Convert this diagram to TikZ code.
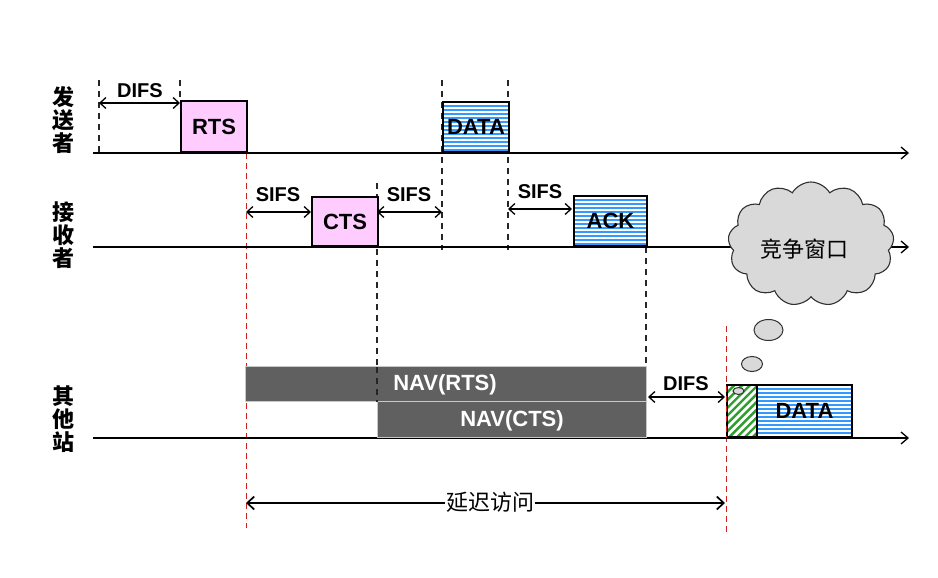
\documentclass[tikz,border=0pt]{standalone}
\usepackage{fontspec}
\setmainfont{Liberation Sans}
\newfontfamily\cjk{Noto Sans CJK SC}
\usetikzlibrary{arrows.meta,shapes.symbols,shapes.geometric}
\definecolor{pinkc}{HTML}{FFCCFF}
\definecolor{bluec}{HTML}{3399FF}
\definecolor{greenc}{HTML}{2E9E2E}
\definecolor{navc}{HTML}{606060}
\definecolor{navb}{HTML}{C8C8C8}
\definecolor{cloudc}{HTML}{D9D9D9}
\definecolor{cloudb}{HTML}{303030}
\definecolor{redd}{HTML}{D02020}
\begin{document}
\begin{tikzpicture}[x=1pt,y=-1pt,
  tl/.style={line width=1.6pt, -{Straight Barb[length=7pt,width=12pt,line width=1.3pt]}},
  dim/.style={line width=1.4pt, {Straight Barb[length=6pt,width=11pt,line width=1.3pt]}-{Straight Barb[length=6pt,width=11pt,line width=1.3pt]}},
  bigdim/.style={line width=1.9pt, {Straight Barb[length=7pt,width=13pt,line width=1.7pt]}-{Straight Barb[length=7pt,width=13pt,line width=1.7pt]}},
  bdash/.style={line width=1.5pt, dash pattern=on 6pt off 5pt, black!85},
  rdash/.style={line width=1pt, dash pattern=on 6pt off 4pt, redd},
  frame/.style={draw=black, line width=2pt, inner sep=0pt, anchor=south west, font=\fontsize{22}{26}\selectfont\bfseries},
  pinkbox/.style={frame, fill=pinkc},
  stripebox/.style={frame, fill=bluec, path picture={
      \foreach \i in {0,...,14}
        \draw[white, line width=1.3pt] ([xshift=-2pt,yshift=-\i*4pt-2pt]path picture bounding box.north west) -- ++(120pt,0pt);}},
  hatchbox/.style={frame, fill=white, path picture={
      \foreach \k in {0,...,16}
        \draw[greenc, line width=2.4pt] ([xshift=\k*7.8pt-60pt]path picture bounding box.south west) -- ++(70pt,70pt);}},
  navbox/.style={draw=navb, fill=navc, line width=1.2pt, inner sep=0pt, anchor=south west},
  navtxt/.style={text=white, font=\fontsize{22}{26}\selectfont\bfseries},
  lab/.style={font=\fontsize{20}{24}\selectfont\bfseries, inner sep=0pt},
  vlab/.style={font=\fontsize{22}{23}\selectfont\cjk\bfseries, align=center, inner sep=0pt},
  bubble/.style={ellipse, draw=cloudb, fill=cloudc, line width=1pt, inner sep=0pt}
]
\useasboundingbox (0,0) rectangle (938,578);

% row labels
\node[vlab] (ls) at (63,120) {发\\送\\者};
\node[vlab] (lr) at (63,235) {接\\收\\者};
\node[vlab] (lo) at (63,419) {其\\他\\站};

% dashed guide lines
\coordinate (d1a) at (99,80);   \coordinate (d1b) at (99,153);
\coordinate (d2a) at (180,80);  \coordinate (d2b) at (180,102);
\coordinate (d3a) at (442,80);  \coordinate (d3b) at (442,250);
\coordinate (d4a) at (508,80);  \coordinate (d4b) at (508,250);
\coordinate (d5a) at (377,183); \coordinate (d5b) at (377,402);
\coordinate (d6a) at (646,247); \coordinate (d6b) at (646,367);
\coordinate (r1a) at (246,153); \coordinate (r1b) at (246,528);
\coordinate (r2a) at (726,326); \coordinate (r2b) at (726,532);
\draw[bdash] (d1a) -- (d1b);
\draw[bdash] (d2a) -- (d2b);
\draw[bdash] (d3a) -- (d3b);
\draw[bdash] (d4a) -- (d4b);
\draw[bdash] (d5a) -- (d5b);
\draw[bdash] (d6a) -- (d6b);
\draw[rdash] (r1a) -- (r1b);
\draw[rdash] (r2a) -- (r2b);

% timelines
\coordinate (s0) at (93,153); \coordinate (s1) at (909,153);
\coordinate (v0) at (93,247); \coordinate (v1) at (909,247);
\coordinate (o0) at (93,438); \coordinate (o1) at (909,438);
\draw[tl] (s0) -- (s1);
\draw[tl] (v0) -- (v1);
\draw[tl] (o0) -- (o1);

% sender
\node[pinkbox, minimum width=66pt, minimum height=51pt] (rts) at (180,153) {RTS};
\node[stripebox, minimum width=66pt, minimum height=50pt] (data1) at (442,153) {DATA};
\coordinate (a1) at (99,103); \coordinate (a2) at (180,103);
\draw[dim] (a1) -- (a2);
\node[lab] (difs1) at (140,91) {DIFS};

% receiver
\node[pinkbox, minimum width=66pt, minimum height=49pt] (cts) at (311,247) {CTS};
\node[stripebox, minimum width=73pt, minimum height=50pt] (ack) at (573,247) {ACK};
\coordinate (b1) at (246,212); \coordinate (b2) at (311,212);
\coordinate (b3) at (377,212); \coordinate (b4) at (442,212);
\coordinate (b5) at (508,209); \coordinate (b6) at (572,209);
\draw[dim] (b1) -- (b2);
\draw[dim] (b3) -- (b4);
\draw[dim] (b5) -- (b6);
\node[lab] (sifs1) at (278,195) {SIFS};
\node[lab] (sifs2) at (409,195) {SIFS};
\node[lab] (sifs3) at (540,192) {SIFS};

% other stations
\node[navbox, minimum width=401pt, minimum height=35pt] (navr) at (245,402) {};
\node[navbox, minimum width=269pt, minimum height=36pt] (navc) at (377,438) {};
\draw[bdash] (377,367) -- (377,402);
\node[navtxt] (tnavr) at (445,385) {NAV(RTS)};
\node[navtxt] (tnavc) at (512,421) {NAV(CTS)};
\coordinate (c1) at (648,397); \coordinate (c2) at (725,397);
\draw[dim] (c1) -- (c2);
\node[lab] (difs2) at (686,384) {DIFS};
\node[hatchbox, minimum width=30pt, minimum height=52pt] (cw) at (726,438) {};
\node[stripebox, minimum width=95pt, minimum height=52pt] (data2) at (756,438) {DATA};
\draw[rdash] (726,386) -- (726,438);

% cloud and bubbles
\node[cloud, cloud puffs=13, cloud puff arc=120, aspect=1.35, draw=cloudb, fill=cloudc, line width=1.1pt,
      minimum width=166pt, minimum height=124pt, inner sep=0pt] (cloud) at (811,244) {};
\node[font=\fontsize{22}{26}\selectfont\cjk] (cwtxt) at (804,249) {竞争窗口};
\node[bubble, minimum width=29pt, minimum height=21pt] (bb1) at (768.5,330) {};
\node[bubble, minimum width=21pt, minimum height=15pt] (bb2) at (752,364) {};
\node[bubble, minimum width=11pt, minimum height=7pt] (bb3) at (738.5,391) {};

% deferred access
\coordinate (e1) at (246,503); \coordinate (e2) at (725,503);
\draw[bigdim] (e1) -- (e2);
\node[fill=white, inner sep=1pt, font=\fontsize{22}{26}\selectfont\cjk] (delay) at (490,502) {延迟访问};
\end{tikzpicture}
\end{document}
